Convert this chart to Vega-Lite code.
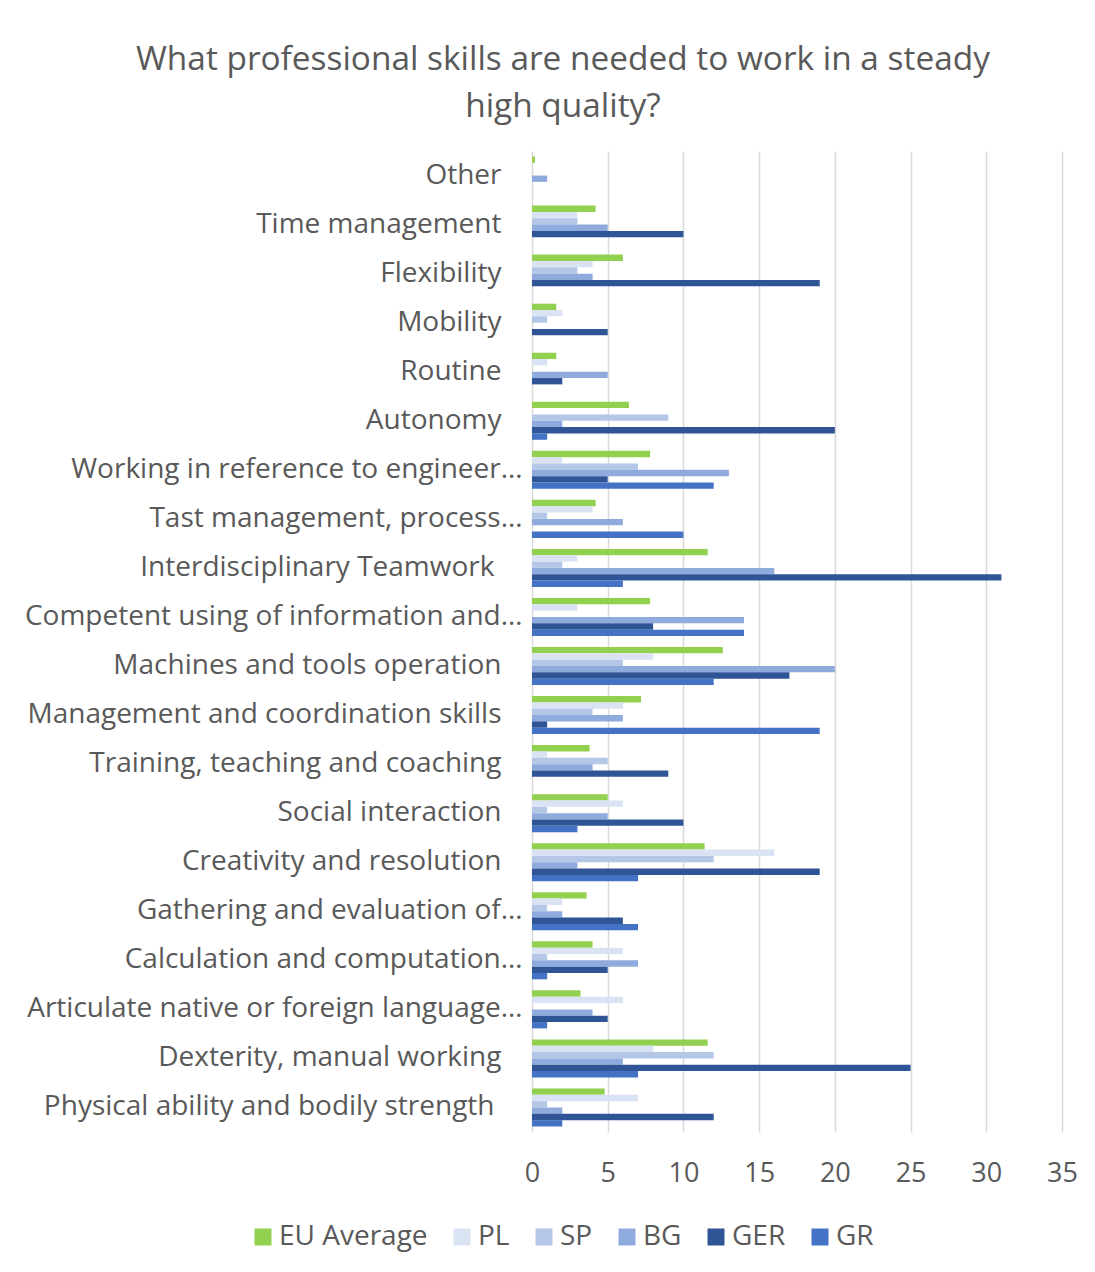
{
  "$schema": "https://vega.github.io/schema/vega-lite/v6.json",
  "autosize": {"type": "none"},
  "padding": {"left": 532, "top": 151, "right": 33, "bottom": 140},
  "width": 530,
  "height": 981,
  "background": "white",
  "title": {
    "text": ["What professional skills are needed to work in a steady", "high quality?"],
    "font": "Open Sans",
    "fontSize": 33.4,
    "fontWeight": "normal",
    "color": "#595959",
    "anchor": "middle",
    "frame": "bounds",
    "lineHeight": 47,
    "offset": 27,
    "dx": 12
  },
  "config": {
    "view": {"stroke": null},
    "font": "Open Sans",
    "axisY": {
      "orient": "left",
      "domain": false,
      "ticks": false,
      "grid": false,
      "title": null,
      "labelFont": "Open Sans",
      "labelFontSize": 28,
      "labelColor": "#595959",
      "labelLimit": 600
    }
  },
  "data": {
    "values": [
      {"skill": "Other", "series": "EU Average", "value": 0.2},
      {"skill": "Other", "series": "PL", "value": 0},
      {"skill": "Other", "series": "SP", "value": 0},
      {"skill": "Other", "series": "BG", "value": 1},
      {"skill": "Other", "series": "GER", "value": 0},
      {"skill": "Other", "series": "GR", "value": 0},
      {"skill": "Time management", "series": "EU Average", "value": 4.2},
      {"skill": "Time management", "series": "PL", "value": 3},
      {"skill": "Time management", "series": "SP", "value": 3},
      {"skill": "Time management", "series": "BG", "value": 5},
      {"skill": "Time management", "series": "GER", "value": 10},
      {"skill": "Time management", "series": "GR", "value": 0},
      {"skill": "Flexibility", "series": "EU Average", "value": 6},
      {"skill": "Flexibility", "series": "PL", "value": 4},
      {"skill": "Flexibility", "series": "SP", "value": 3},
      {"skill": "Flexibility", "series": "BG", "value": 4},
      {"skill": "Flexibility", "series": "GER", "value": 19},
      {"skill": "Flexibility", "series": "GR", "value": 0},
      {"skill": "Mobility", "series": "EU Average", "value": 1.6},
      {"skill": "Mobility", "series": "PL", "value": 2},
      {"skill": "Mobility", "series": "SP", "value": 1},
      {"skill": "Mobility", "series": "BG", "value": 0},
      {"skill": "Mobility", "series": "GER", "value": 5},
      {"skill": "Mobility", "series": "GR", "value": 0},
      {"skill": "Routine", "series": "EU Average", "value": 1.6},
      {"skill": "Routine", "series": "PL", "value": 1},
      {"skill": "Routine", "series": "SP", "value": 0},
      {"skill": "Routine", "series": "BG", "value": 5},
      {"skill": "Routine", "series": "GER", "value": 2},
      {"skill": "Routine", "series": "GR", "value": 0},
      {"skill": "Autonomy", "series": "EU Average", "value": 6.4},
      {"skill": "Autonomy", "series": "PL", "value": 0},
      {"skill": "Autonomy", "series": "SP", "value": 9},
      {"skill": "Autonomy", "series": "BG", "value": 2},
      {"skill": "Autonomy", "series": "GER", "value": 20},
      {"skill": "Autonomy", "series": "GR", "value": 1},
      {"skill": "Working in reference to engineer…", "series": "EU Average", "value": 7.8},
      {"skill": "Working in reference to engineer…", "series": "PL", "value": 2},
      {"skill": "Working in reference to engineer…", "series": "SP", "value": 7},
      {"skill": "Working in reference to engineer…", "series": "BG", "value": 13},
      {"skill": "Working in reference to engineer…", "series": "GER", "value": 5},
      {"skill": "Working in reference to engineer…", "series": "GR", "value": 12},
      {"skill": "Tast management, process…", "series": "EU Average", "value": 4.2},
      {"skill": "Tast management, process…", "series": "PL", "value": 4},
      {"skill": "Tast management, process…", "series": "SP", "value": 1},
      {"skill": "Tast management, process…", "series": "BG", "value": 6},
      {"skill": "Tast management, process…", "series": "GER", "value": 0},
      {"skill": "Tast management, process…", "series": "GR", "value": 10},
      {"skill": "Interdisciplinary Teamwork", "series": "EU Average", "value": 11.6},
      {"skill": "Interdisciplinary Teamwork", "series": "PL", "value": 3},
      {"skill": "Interdisciplinary Teamwork", "series": "SP", "value": 2},
      {"skill": "Interdisciplinary Teamwork", "series": "BG", "value": 16},
      {"skill": "Interdisciplinary Teamwork", "series": "GER", "value": 31},
      {"skill": "Interdisciplinary Teamwork", "series": "GR", "value": 6},
      {"skill": "Competent using of information and…", "series": "EU Average", "value": 7.8},
      {"skill": "Competent using of information and…", "series": "PL", "value": 3},
      {"skill": "Competent using of information and…", "series": "SP", "value": 0},
      {"skill": "Competent using of information and…", "series": "BG", "value": 14},
      {"skill": "Competent using of information and…", "series": "GER", "value": 8},
      {"skill": "Competent using of information and…", "series": "GR", "value": 14},
      {"skill": "Machines and tools operation", "series": "EU Average", "value": 12.6},
      {"skill": "Machines and tools operation", "series": "PL", "value": 8},
      {"skill": "Machines and tools operation", "series": "SP", "value": 6},
      {"skill": "Machines and tools operation", "series": "BG", "value": 20},
      {"skill": "Machines and tools operation", "series": "GER", "value": 17},
      {"skill": "Machines and tools operation", "series": "GR", "value": 12},
      {"skill": "Management and coordination skills", "series": "EU Average", "value": 7.2},
      {"skill": "Management and coordination skills", "series": "PL", "value": 6},
      {"skill": "Management and coordination skills", "series": "SP", "value": 4},
      {"skill": "Management and coordination skills", "series": "BG", "value": 6},
      {"skill": "Management and coordination skills", "series": "GER", "value": 1},
      {"skill": "Management and coordination skills", "series": "GR", "value": 19},
      {"skill": "Training, teaching and coaching", "series": "EU Average", "value": 3.8},
      {"skill": "Training, teaching and coaching", "series": "PL", "value": 1},
      {"skill": "Training, teaching and coaching", "series": "SP", "value": 5},
      {"skill": "Training, teaching and coaching", "series": "BG", "value": 4},
      {"skill": "Training, teaching and coaching", "series": "GER", "value": 9},
      {"skill": "Training, teaching and coaching", "series": "GR", "value": 0},
      {"skill": "Social interaction", "series": "EU Average", "value": 5},
      {"skill": "Social interaction", "series": "PL", "value": 6},
      {"skill": "Social interaction", "series": "SP", "value": 1},
      {"skill": "Social interaction", "series": "BG", "value": 5},
      {"skill": "Social interaction", "series": "GER", "value": 10},
      {"skill": "Social interaction", "series": "GR", "value": 3},
      {"skill": "Creativity and resolution", "series": "EU Average", "value": 11.4},
      {"skill": "Creativity and resolution", "series": "PL", "value": 16},
      {"skill": "Creativity and resolution", "series": "SP", "value": 12},
      {"skill": "Creativity and resolution", "series": "BG", "value": 3},
      {"skill": "Creativity and resolution", "series": "GER", "value": 19},
      {"skill": "Creativity and resolution", "series": "GR", "value": 7},
      {"skill": "Gathering and evaluation of…", "series": "EU Average", "value": 3.6},
      {"skill": "Gathering and evaluation of…", "series": "PL", "value": 2},
      {"skill": "Gathering and evaluation of…", "series": "SP", "value": 1},
      {"skill": "Gathering and evaluation of…", "series": "BG", "value": 2},
      {"skill": "Gathering and evaluation of…", "series": "GER", "value": 6},
      {"skill": "Gathering and evaluation of…", "series": "GR", "value": 7},
      {"skill": "Calculation and computation…", "series": "EU Average", "value": 4},
      {"skill": "Calculation and computation…", "series": "PL", "value": 6},
      {"skill": "Calculation and computation…", "series": "SP", "value": 1},
      {"skill": "Calculation and computation…", "series": "BG", "value": 7},
      {"skill": "Calculation and computation…", "series": "GER", "value": 5},
      {"skill": "Calculation and computation…", "series": "GR", "value": 1},
      {"skill": "Articulate native or foreign language…", "series": "EU Average", "value": 3.2},
      {"skill": "Articulate native or foreign language…", "series": "PL", "value": 6},
      {"skill": "Articulate native or foreign language…", "series": "SP", "value": 0},
      {"skill": "Articulate native or foreign language…", "series": "BG", "value": 4},
      {"skill": "Articulate native or foreign language…", "series": "GER", "value": 5},
      {"skill": "Articulate native or foreign language…", "series": "GR", "value": 1},
      {"skill": "Dexterity, manual working", "series": "EU Average", "value": 11.6},
      {"skill": "Dexterity, manual working", "series": "PL", "value": 8},
      {"skill": "Dexterity, manual working", "series": "SP", "value": 12},
      {"skill": "Dexterity, manual working", "series": "BG", "value": 6},
      {"skill": "Dexterity, manual working", "series": "GER", "value": 25},
      {"skill": "Dexterity, manual working", "series": "GR", "value": 7},
      {"skill": "Physical ability and bodily strength", "series": "EU Average", "value": 4.8},
      {"skill": "Physical ability and bodily strength", "series": "PL", "value": 7},
      {"skill": "Physical ability and bodily strength", "series": "SP", "value": 1},
      {"skill": "Physical ability and bodily strength", "series": "BG", "value": 2},
      {"skill": "Physical ability and bodily strength", "series": "GER", "value": 12},
      {"skill": "Physical ability and bodily strength", "series": "GR", "value": 2}
    ]
  },
  "resolve": {"axis": {"y": "independent"}},
  "layer": [
    {
      "mark": {"type": "bar"},
      "encoding": {
        "y": {
          "field": "skill",
          "type": "nominal",
          "sort": null,
          "scale": {"paddingInner": 0.225, "paddingOuter": 0.1125},
          "axis": {
            "orient": "left",
            "labelPadding": 31,
            "labelExpr": "(indexof(datum.label, '…') >= 0 || datum.label == 'Interdisciplinary Teamwork' || datum.label == 'Physical ability and bodily strength') ? '' : datum.label"
          }
        },
        "yOffset": {
          "field": "series",
          "type": "nominal",
          "sort": ["EU Average", "PL", "SP", "BG", "GER", "GR"],
          "scale": {"paddingInner": 0, "paddingOuter": 0}
        },
        "x": {
          "field": "value",
          "type": "quantitative",
          "title": null,
          "scale": {"domain": [0, 35], "nice": false},
          "axis": {
            "values": [0, 5, 10, 15, 20, 25, 30, 35],
            "domain": false,
            "ticks": false,
            "grid": true,
            "gridColor": "#D9D9D9",
            "gridWidth": 1.5,
            "labelPadding": 28,
            "labelFont": "Open Sans",
            "labelFontSize": 27,
            "labelColor": "#595959",
            "labelFlush": false
          }
        },
        "color": {
          "field": "series",
          "type": "nominal",
          "sort": ["EU Average", "PL", "SP", "BG", "GER", "GR"],
          "scale": {
            "domain": ["EU Average", "PL", "SP", "BG", "GER", "GR"],
            "range": ["#92D050", "#DAE3F3", "#B4C7E7", "#8FAADC", "#2F5597", "#4472C4"]
          },
          "legend": {
            "title": null,
            "orient": "none",
            "direction": "horizontal",
            "legendX": -283,
            "legendY": 1072,
            "symbolType": "square",
            "symbolSize": 289,
            "symbolStrokeWidth": 0,
            "labelFont": "Open Sans",
            "labelFontSize": 28,
            "labelColor": "#595959",
            "labelOffset": 2,
            "columnPadding": 20,
            "labelLimit": 400
          }
        }
      }
    },
    {
      "mark": {"type": "text", "text": ""},
      "encoding": {
        "y": {
          "field": "skill",
          "type": "nominal",
          "sort": null,
          "axis": {
            "orient": "left",
            "labelPadding": 10,
            "labelExpr": "indexof(datum.label, '…') >= 0 ? datum.label : ''"
          }
        }
      }
    },
    {
      "mark": {"type": "text", "text": ""},
      "encoding": {
        "y": {
          "field": "skill",
          "type": "nominal",
          "sort": null,
          "axis": {
            "orient": "left",
            "labelPadding": 38,
            "labelExpr": "(datum.label == 'Interdisciplinary Teamwork' || datum.label == 'Physical ability and bodily strength') ? datum.label : ''"
          }
        }
      }
    }
  ]
}
